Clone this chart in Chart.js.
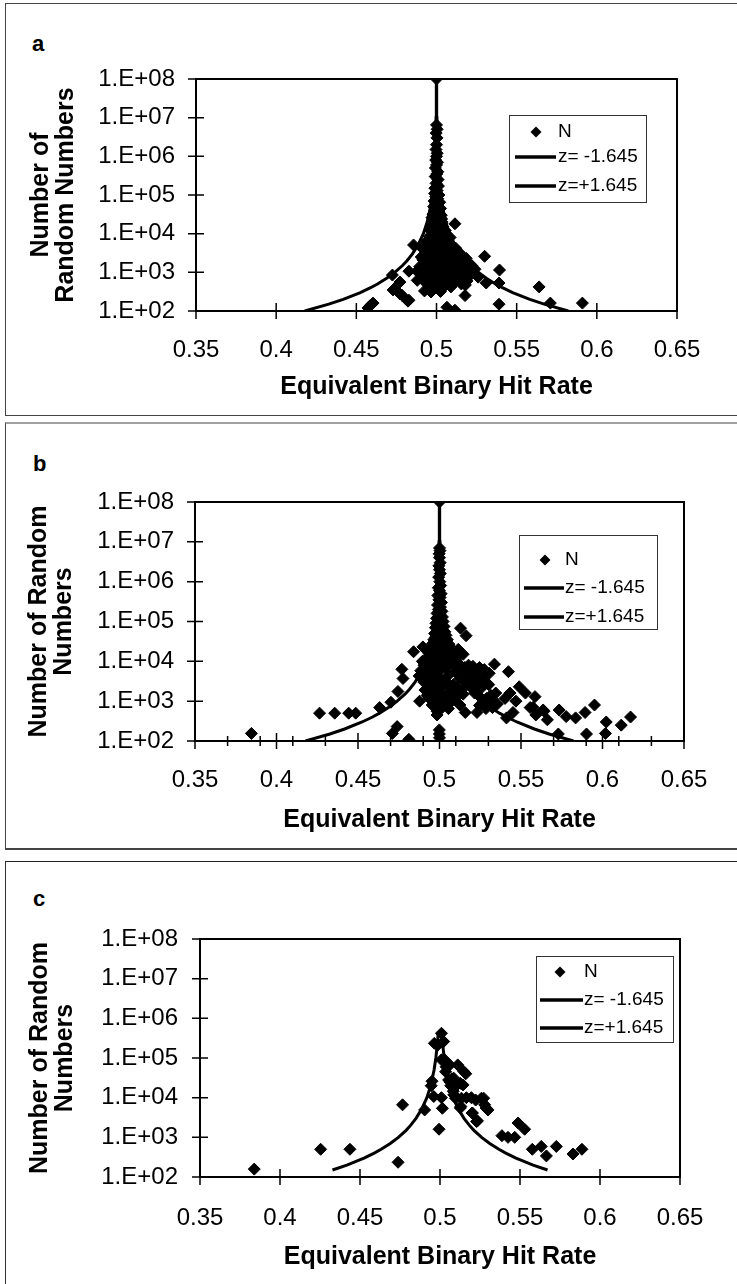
<!DOCTYPE html>
<html>
<head>
<meta charset="utf-8">
<script src="https://cdn.jsdelivr.net/npm/chart.js@4.4.1/dist/chart.umd.min.js"></script>
<style>
html,body{margin:0;padding:0;background:#fff;}
body{width:737px;height:1284px;overflow:hidden;position:relative;font-family:'Liberation Sans',Arial,sans-serif;}
.frame{position:absolute;box-sizing:border-box;}
canvas{position:absolute;left:0;}
.lab{position:absolute;font:bold 22px 'Liberation Sans',Arial,sans-serif;line-height:22px;color:#000;}
</style>
</head>
<body>
<div class="frame" style="left:5px;top:3px;width:760px;height:413px;border:1.5px solid #444;"></div>
<div class="frame" style="left:5px;top:422px;width:760px;height:428px;border-left:1.5px solid #444;border-top:2px solid #a0a0a0;border-bottom:2px solid #444;"></div>
<div class="frame" style="left:5px;top:861px;width:760px;height:500px;border-left:1.5px solid #333;border-top:1.5px solid #222;"></div>
<div class="lab" style="left:32px;top:33px;">a</div>
<div class="lab" style="left:33px;top:453px;">b</div>
<div class="lab" style="left:33px;top:888px;">c</div>
<canvas id="ca" width="737" height="415" style="top:0px;width:737px;height:415px;"></canvas>
<canvas id="cb" width="737" height="426" style="top:423px;width:737px;height:426px;"></canvas>
<canvas id="cc" width="737" height="423" style="top:861px;width:737px;height:423px;"></canvas>
<script>
// ---------- data ----------
const xTickValues = [0.35, 0.4, 0.45, 0.5, 0.55, 0.6, 0.65];
const xTickLabels = ['0.35', '0.4', '0.45', '0.5', '0.55', '0.6', '0.65'];
const yTickValues = [1e2, 1e3, 1e4, 1e5, 1e6, 1e7, 1e8];
const yTickLabels = ['1.E+02', '1.E+03', '1.E+04', '1.E+05', '1.E+06', '1.E+07', '1.E+08'];
const xMinorTicksB = [0.37, 0.39, 0.41, 0.43, 0.47, 0.49, 0.51, 0.53, 0.57, 0.59, 0.61, 0.63];
const seriesLabels = ['N', 'z= -1.645', 'z=+1.645'];
const xTitle = 'Equivalent Binary Hit Rate';
const yTitleA = ['Number of', 'Random Numbers'];
const yTitleBC = ['Number of Random', 'Numbers'];

// critical curves (hit rate at given N)
const curveN   = [100, 150, 200, 300, 400, 500, 700, 1000, 1500, 2000, 3000, 5000, 1e4, 2e4, 5e4, 1e5, 3e5, 1e6, 1e7, 1e8];
const curveLow = [0.4178, 0.4328, 0.4418, 0.4525, 0.4589, 0.4632, 0.4689, 0.4740, 0.4788, 0.4816, 0.4850, 0.4884, 0.4918, 0.4942, 0.4963, 0.4974, 0.4985, 0.4992, 0.4997, 0.4999];
const curveHigh= [0.5822, 0.5672, 0.5582, 0.5475, 0.5411, 0.5368, 0.5311, 0.5260, 0.5212, 0.5184, 0.5150, 0.5116, 0.5082, 0.5058, 0.5037, 0.5026, 0.5015, 0.5008, 0.5003, 0.5001];
const curveNc    = [150, 200, 300, 400, 500, 700, 1000, 1500, 2000, 3000, 5000, 1e4, 2e4, 5e4, 1e5, 2e5, 4e5];
const curveLowC  = [0.4328, 0.4418, 0.4525, 0.4589, 0.4632, 0.4689, 0.4740, 0.4788, 0.4816, 0.4850, 0.4884, 0.4918, 0.4942, 0.4963, 0.4974, 0.4982, 0.4987];
const curveHighC = [0.5672, 0.5582, 0.5475, 0.5411, 0.5368, 0.5311, 0.5260, 0.5212, 0.5184, 0.5150, 0.5116, 0.5082, 0.5058, 0.5037, 0.5026, 0.5018, 0.5013];

// panel a scatter [hit rate, N]
const aScatter = [[0.5,1e8],[0.5,6.5e6],[0.5004,5e6],[0.4998,4e6],[0.5003,3e6],[0.5,2e6],[0.4997,1.5e6],[0.5004,1.2e6],[0.5,1e6],[0.4995,8e5],[0.5006,7e5],[0.5,6e5],[0.4993,5e5],[0.5008,4e5],[0.5002,3.5e5],[0.4992,3e5],[0.501,2.5e5],[0.4997,2e5],[0.5012,1.7e5],[0.499,1.5e5],[0.5004,1.3e5],[0.4988,1.1e5],[0.5015,1e5],[0.4995,9e4],[0.5008,8e4],[0.4985,7e4],[0.502,6.5e4],[0.4998,6e4],[0.5013,5e4],[0.4982,5e4],[0.5025,4.5e4],[0.4992,4e4],[0.5006,3.5e4],[0.4978,3.2e4],[0.503,3e4],[0.4988,2.8e4],[0.5018,2.5e4],[0.4975,2.2e4],[0.5035,2e4],[0.4996,2e4],[0.501,1.8e4],[0.5115,1.8e4],[0.4968,1.6e4],[0.504,1.5e4],[0.4985,1.4e4],[0.5022,1.3e4],[0.4962,1.2e4],[0.5048,1.1e4],[0.4992,1e4],[0.503,9e3],[0.4955,8.5e3],[0.5055,8e3],[0.498,7.5e3],[0.5012,7e3],[0.494,6.5e3],[0.507,6e3],[0.4998,6e3],[0.5035,5.5e3],[0.4925,5e3],[0.4857,5.1e3],[0.509,5e3],[0.4975,4.6e3],[0.5045,4.5e3],[0.512,4.2e3],[0.4915,4e3],[0.5008,4e3],[0.4955,3.6e3],[0.5065,3.5e3],[0.514,3.3e3],[0.4935,3.2e3],[0.5025,3e3],[0.5155,2.8e3],[0.497,2.7e3],[0.508,2.5e3],[0.4905,2.5e3],[0.53,2.6e3],[0.5185,2.3e3],[0.5045,2.2e3],[0.4985,2e3],[0.512,2e3],[0.495,1.9e3],[0.5195,1.8e3],[0.4925,1.7e3],[0.506,1.7e3],[0.5165,1.6e3],[0.5005,1.5e3],[0.522,1.5e3],[0.4895,1.4e3],[0.514,1.4e3],[0.496,1.3e3],[0.509,1.25e3],[0.524,1.2e3],[0.5393,1.15e3],[0.5025,1.1e3],[0.4828,1.07e3],[0.4878,1.07e3],[0.519,1.05e3],[0.4945,1e3],[0.5105,950],[0.4985,900],[0.4725,850],[0.5215,880],[0.506,850],[0.516,800],[0.491,800],[0.5005,750],[0.526,750],[0.5135,700],[0.4955,700],[0.509,650],[0.488,620],[0.5035,600],[0.519,600],[0.4975,580],[0.5115,560],[0.4772,560],[0.531,530],[0.539,530],[0.4935,520],[0.5065,500],[0.518,470],[0.5155,500],[0.4998,480],[0.509,420],[0.564,420],[0.4955,400],[0.4735,370],[0.4729,350],[0.5035,380],[0.4966,310],[0.4925,330],[0.5025,320],[0.4772,275],[0.5178,250],[0.4785,255],[0.4822,180],[0.4828,190],[0.539,150],[0.571,160],[0.591,160],[0.5065,125],[0.5115,105],[0.4573,120],[0.4604,160],[0.4588,140],
  [0.4935,4.2e3],[0.4965,3.2e3],[0.5055,3e3],[0.5105,2.9e3],[0.5135,2.5e3],[0.4945,2.6e3],[0.4995,2.4e3],[0.5025,1.9e3],[0.5095,1.9e3],[0.5145,1.8e3],[0.4975,1.6e3],[0.4915,2.1e3],[0.5075,1.4e3],[0.5115,1.2e3],[0.5055,1.1e3],[0.5165,1.2e3],[0.5205,1.3e3],[0.4985,1.2e3],[0.5035,900],[0.5085,800],[0.4965,850],[0.5155,650],[0.5025,700],[0.5185,900],[0.5225,1e3],[0.4905,1.1e3],[0.5075,6e3],[0.4965,7e3],[0.5015,5e3],[0.5055,1.2e4],[0.4975,9e3],[0.5085,8e3],[0.5005,2.5e4],[0.4985,1.8e4],[0.5025,1.6e4],[0.4972,2.6e4],[0.5032,2.4e4],[0.5008,1.2e4]];

// panel b scatter [hit rate, N]
const bScatter = [[0.5,1e8],[0.5,7e6],[0.5003,6e6],[0.4998,5e6],[0.5,4e6],[0.5004,3e6],[0.4996,2.5e6],[0.5,2e6],[0.5005,1.6e6],[0.4995,1.3e6],[0.5002,1e6],[0.5007,8e5],[0.4993,7e5],[0.5,6e5],[0.501,5e5],[0.499,4.5e5],[0.5004,4e5],[0.4996,3.5e5],[0.5012,3e5],[0.4988,2.6e5],[0.5006,2.3e5],[0.4993,2e5],[0.5015,1.8e5],[0.4985,1.6e5],[0.5002,1.5e5],[0.5018,1.3e5],[0.4982,1.2e5],[0.4997,1.1e5],[0.5022,1e5],[0.4978,9e4],[0.5008,9e4],[0.4993,8e4],[0.5028,7.5e4],[0.5129,6.8e4],[0.4975,7e4],[0.5012,6.5e4],[0.5163,4.4e4],[0.4988,6e4],[0.5033,5.5e4],[0.497,5e4],[0.5005,5e4],[0.504,4.5e4],[0.4985,4e4],[0.5018,4e4],[0.4965,3.5e4],[0.5048,3.5e4],[0.4995,3.2e4],[0.5025,3e4],[0.4958,2.8e4],[0.5058,2.7e4],[0.498,2.5e4],[0.5012,2.4e4],[0.4898,2.3e4],[0.5068,2.2e4],[0.495,2.1e4],[0.5035,2e4],[0.4841,1.74e4],[0.4988,1.8e4],[0.5075,1.7e4],[0.4935,1.6e4],[0.5015,1.5e4],[0.5088,1.4e4],[0.4965,1.35e4],[0.5045,1.3e4],[0.492,1.2e4],[0.51,1.15e4],[0.4995,1.1e4],[0.5025,1e4],[0.4945,9.5e3],[0.5115,9e3],[0.5065,8.5e3],[0.4978,8.5e3],[0.5337,8.5e3],[0.5178,8e3],[0.4905,8e3],[0.5205,7.5e3],[0.5035,7e3],[0.5245,7e3],[0.4955,6.8e3],[0.5135,6.5e3],[0.4769,6.3e3],[0.5275,6.2e3],[0.5005,6e3],[0.4885,5.8e3],[0.5095,5.5e3],[0.5423,5.5e3],[0.5225,5.5e3],[0.4965,5.2e3],[0.5165,5e3],[0.5305,5e3],[0.4925,4.8e3],[0.5055,4.5e3],[0.4875,4.3e3],[0.5195,4.2e3],[0.4995,4e3],[0.5255,4e3],[0.4776,3.7e3],[0.5125,3.7e3],[0.4945,3.5e3],[0.5035,3.3e3],[0.5225,3.2e3],[0.4905,3e3],[0.5155,3e3],[0.5285,3e3],[0.4975,2.8e3],[0.5302,2.6e3],[0.5085,2.6e3],[0.5185,2.4e3],[0.4935,2.3e3],[0.5489,2.3e3],[0.5015,2.2e3],[0.5255,2.1e3],[0.4911,1.9e3],[0.5135,1.9e3],[0.4955,1.8e3],[0.4745,1.75e3],[0.5065,1.7e3],[0.5432,1.6e3],[0.5527,1.6e3],[0.5215,1.6e3],[0.4985,1.5e3],[0.5315,1.4e3],[0.4925,1.4e3],[0.5586,1.3e3],[0.5105,1.3e3],[0.5288,1.17e3],[0.5095,1.17e3],[0.5402,1.17e3],[0.4878,1e3],[0.5469,1e3],[0.5321,1e3],[0.4965,1.05e3],[0.5005,950],[0.4702,940],[0.5045,900],[0.5355,850],[0.4955,800],[0.5951,800],[0.5245,780],[0.4633,690],[0.5325,690],[0.5556,690],[0.5574,700],[0.5015,680],[0.5285,650],[0.5636,600],[0.5734,600],[0.5641,560],[0.4985,560],[0.4264,500],[0.4357,500],[0.4443,500],[0.4486,500],[0.5158,520],[0.523,520],[0.5451,520],[0.5893,520],[0.4985,450],[0.5591,450],[0.5777,410],[0.5835,380],[0.6172,400],[0.5411,380],[0.5662,340],[0.6023,300],[0.6115,250],[0.474,230],[0.4711,155],[0.4812,110],[0.4999,190],[0.5,120],[0.4999,150],[0.3846,155],[0.5729,150],[0.5902,150],[0.6018,155],
  [0.5035,1.1e4],[0.4975,1.2e4],[0.5085,9e3],[0.5155,7e3],[0.5195,6e3],[0.5235,5e3],[0.5265,5e3],[0.5185,3.6e3],[0.5215,2.6e3],[0.5045,2.8e3],[0.4995,2.5e3],[0.5105,2.2e3],[0.5145,1.5e3],[0.4935,1.2e3],[0.5025,1.3e3],[0.5075,1e3],[0.5255,1.2e3],[0.5345,1.6e3],[0.5275,900],[0.5125,800],[0.4985,700],[0.5055,650],[0.4965,3e3],[0.4915,6e3],[0.4945,1.4e4],[0.5055,1.9e4],[0.5005,3e4],[0.4975,4e4],[0.5035,3.8e4],[0.5115,2e4],[0.5145,1.5e4],[0.4895,1e4]];

// panel c scatter [hit rate, N]
const cScatter = [[0.3839,158],[0.4254,500],[0.4437,500],[0.4738,235],[0.4766,6600],[0.4904,4900],[0.495,26000],[0.4945,20000],[0.4961,10700],[0.4994,1600],[0.5009,10000],[0.5015,5400],[0.5009,420000],[0.4965,235000],[0.4985,210000],[0.5023,260000],[0.5009,90000],[0.5038,60000],[0.5029,90000],[0.5054,28000],[0.5067,20000],[0.5061,67000],[0.5111,67000],[0.5148,46000],[0.5161,40000],[0.5086,31000],[0.5107,21000],[0.5144,21000],[0.5127,23000],[0.5083,14500],[0.5086,11800],[0.5097,9700],[0.5134,9700],[0.5165,10000],[0.5196,10000],[0.5223,8700],[0.5259,9700],[0.5273,9700],[0.5279,6600],[0.53,4900],[0.5127,5500],[0.5288,5500],[0.513,6000],[0.52,4100],[0.5203,4100],[0.5229,2500],[0.5234,2600],[0.5488,2300],[0.5529,1600],[0.5387,1100],[0.5425,1000],[0.5467,1000],[0.5577,500],[0.5633,590],[0.5665,340],[0.5727,590],[0.5831,380],[0.5887,500],[0.5062,25000],[0.5075,30000],[0.5035,45000]];

// ---------- drawing helpers ----------
const FONT = "'Liberation Sans', Arial, Helvetica, sans-serif";

const axesFrame = {
  id: 'axesFrame',
  beforeDatasetsDraw(chart, args, o) {
    const {ctx, chartArea: a, scales: {x, y}} = chart;
    ctx.save();
    ctx.strokeStyle = '#000';
    ctx.lineWidth = 2;
    ctx.strokeRect(a.left, a.top, a.right - a.left, a.bottom - a.top);
    ctx.lineWidth = 1.5;
    ctx.beginPath();
    yTickValues.forEach(v => { const p = y.getPixelForValue(v); ctx.moveTo(a.left - 8, p); ctx.lineTo(a.left + 8, p); });
    xTickValues.forEach(v => { const p = x.getPixelForValue(v); ctx.moveTo(p, a.bottom - 8); ctx.lineTo(p, a.bottom + 8); });
    (o.minor || []).forEach(v => { const p = x.getPixelForValue(v); ctx.moveTo(p, a.bottom - 5); ctx.lineTo(p, a.bottom + 5); });
    ctx.stroke();
    ctx.restore();
  }
};

const legendBox = {
  id: 'legendBox',
  afterDraw(chart, args, o) {
    const ctx = chart.ctx;
    const [bx, by, bw, bh] = o.box;
    ctx.save();
    ctx.fillStyle = '#fff';
    ctx.fillRect(bx, by, bw, bh);
    ctx.strokeStyle = '#333';
    ctx.lineWidth = 1;
    ctx.strokeRect(bx + 0.5, by + 0.5, bw, bh);
    ctx.font = '19px ' + FONT;
    ctx.textBaseline = 'middle';
    ctx.textAlign = 'left';
    ctx.fillStyle = '#000';
    ctx.strokeStyle = '#000';
    chart.data.datasets.forEach((ds) => {
      const cy = by + o.rows[ds.legendRow];
      if (ds.showLine) {
        ctx.lineWidth = 3.5;
        ctx.beginPath();
        ctx.moveTo(bx + o.line[0], cy);
        ctx.lineTo(bx + o.line[1], cy);
        ctx.stroke();
      } else {
        const mx = bx + o.markX, r = 5.5;
        ctx.beginPath();
        ctx.moveTo(mx - r, cy); ctx.lineTo(mx, cy - r); ctx.lineTo(mx + r, cy); ctx.lineTo(mx, cy + r);
        ctx.closePath();
        ctx.fill();
      }
      ctx.fillText(ds.label, bx + o.textX, cy);
    });
    ctx.restore();
  }
};

function pts(pairs) { return pairs.map(p => ({x: p[0], y: p[1]})); }
function curve(xs, ns) { return xs.map((v, i) => ({x: v, y: ns[i]})); }

function makePanel(id, L) {
  const datasets = [
    {label: seriesLabels[0], data: pts(L.scatter), showLine: false, pointStyle: 'rectRot',
     pointRadius: 6, pointHoverRadius: 6, pointBackgroundColor: '#000', pointBorderColor: '#000', pointBorderWidth: 1, legendRow: 0},
    {label: seriesLabels[1], data: curve(L.low, L.n), showLine: true, pointRadius: 0, borderColor: '#000',
     borderWidth: 3, tension: 0, legendRow: 1},
    {label: seriesLabels[2], data: curve(L.high, L.n), showLine: true, pointRadius: 0, borderColor: '#000',
     borderWidth: 3, tension: 0, legendRow: 2}
  ];
  return new Chart(document.getElementById(id), {
    type: 'scatter',
    data: {datasets},
    options: {
      responsive: false,
      animation: false,
      devicePixelRatio: 1,
      layout: {padding: {left: 0, top: L.top, right: L.right, bottom: L.bottom}},
      plugins: {
        legend: {display: false},
        tooltip: {enabled: false},
        axesFrame: {minor: L.minor},
        legendBox: L.legend
      },
      scales: {
        x: {
          type: 'linear', min: 0.35, max: 0.65,
          grid: {display: false, drawTicks: false}, border: {display: false},
          afterBuildTicks: s => { s.ticks = xTickValues.map(v => ({value: v})); },
          afterFit: s => { s.height = L.xH; },
          ticks: {autoSkip: false, maxRotation: 0, padding: L.xPad, color: '#000',
                  font: {family: FONT, size: 24, lineHeight: 1.2},
                  callback: (v, i) => xTickLabels[i]},
          title: {display: true, text: xTitle, color: '#000', padding: {top: 0, bottom: 0},
                  font: {family: FONT, size: 25, weight: 'bold', lineHeight: 1.2}}
        },
        y: {
          type: 'logarithmic', min: 1e2, max: 1e8,
          grid: {display: false, drawTicks: false}, border: {display: false},
          afterBuildTicks: s => { s.ticks = yTickValues.map(v => ({value: v})); },
          afterFit: s => { s.width = L.yW; },
          ticks: {autoSkip: false, padding: L.yPad, color: '#000',
                  font: {family: FONT, size: 24, lineHeight: 1.2},
                  callback: (v, i) => yTickLabels[i]},
          title: {display: true, text: L.yTitle, color: '#000', padding: {top: L.yTitlePad, bottom: 0},
                  font: {family: FONT, size: 25, weight: 'bold', lineHeight: 1.0}}
        }
      }
    },
    plugins: [axesFrame, legendBox]
  });
}

makePanel('ca', {
  scatter: aScatter, low: curveLow, high: curveHigh, n: curveN,
  top: 79, right: 60, bottom: 13, xH: 91, yW: 196, xPad: 25, yPad: 21, yTitle: yTitleA, yTitlePad: 29,
  minor: [],
  legend: {box: [509, 115, 137, 87], rows: [17, 42, 71], line: [6, 47], markX: 27, textX: 49}
});
makePanel('cb', {
  scatter: bScatter, low: curveLow, high: curveHigh, n: curveN,
  top: 79, right: 53, bottom: 14, xH: 94, yW: 195, xPad: 25, yPad: 21, yTitle: yTitleBC, yTitlePad: 27,
  minor: xMinorTicksB,
  legend: {box: [519, 112, 138, 94], rows: [25, 53, 82], line: [5, 45], markX: 26, textX: 46}
});
makePanel('cc', {
  scatter: cScatter, low: curveLowC, high: curveHighC, n: curveNc,
  top: 78, right: 57, bottom: 12, xH: 95, yW: 200, xPad: 27, yPad: 22, yTitle: yTitleBC, yTitlePad: 28,
  minor: [],
  legend: {box: [536, 95, 137, 86], rows: [16, 44, 72], line: [4, 47], markX: 24, textX: 48}
});
</script>
</body>
</html>
